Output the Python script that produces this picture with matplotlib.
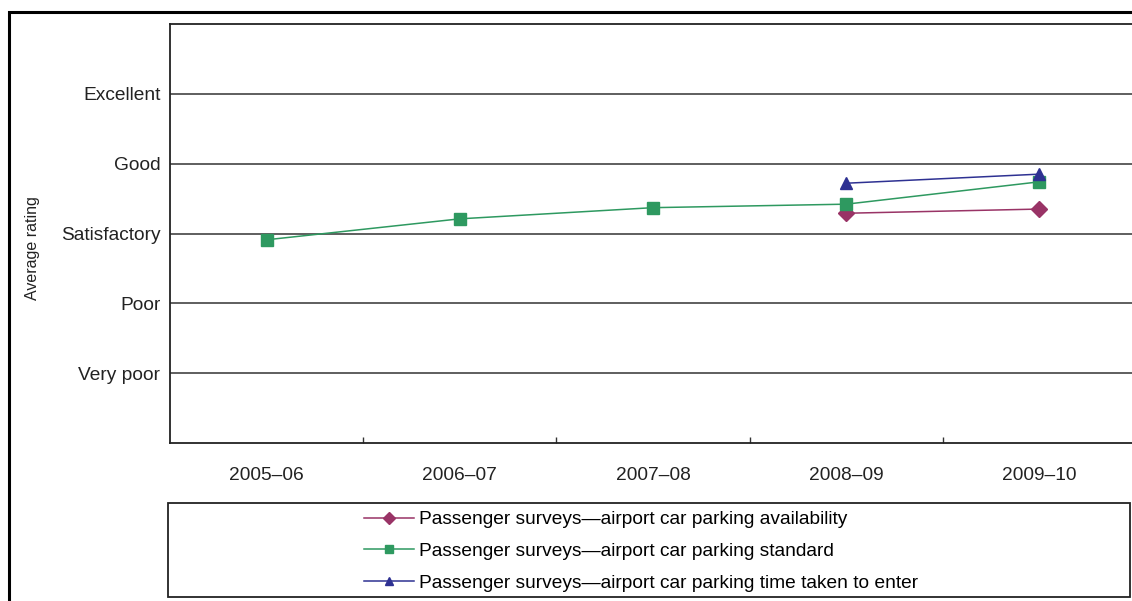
import matplotlib
matplotlib.use("Agg")
import matplotlib.pyplot as plt
from matplotlib.patches import Rectangle
from matplotlib.ticker import FixedLocator

plt.rcParams["font.family"] = ["Liberation Sans", "DejaVu Sans"]

years = ["2005–06", "2006–07", "2007–08", "2008–09", "2009–10"]
rating_labels = ["Very poor", "Poor", "Satisfactory", "Good", "Excellent"]
rating_values = [1, 2, 3, 4, 5]

availability = [None, None, None, 3.29, 3.35]
standard = [2.91, 3.21, 3.37, 3.42, 3.74]
time_to_enter = [None, None, None, 3.72, 3.85]

series = [
    ("Passenger surveys—airport car parking availability", availability, "#993366", "D", 8),
    ("Passenger surveys—airport car parking standard", standard, "#2E9960", "s", 9),
    ("Passenger surveys—airport car parking time taken to enter", time_to_enter, "#2E3192", "^", 9),
]

W, H = 1132, 601
fig = plt.figure(figsize=(W / 100, H / 100), dpi=100)

# outer frame
fig.patches.append(Rectangle((9 / W, -0.1), 1.2, 1 - 12 / H + 0.1, transform=fig.transFigure,
                             fill=False, edgecolor="black", linewidth=2.2))

ax_l, ax_r, ax_t, ax_b = 170, 1136, 24, 443
ax = fig.add_axes([ax_l / W, 1 - ax_b / H, (ax_r - ax_l) / W, (ax_b - ax_t) / H])
ax.set_xlim(-0.5, len(years) - 0.5)
ax.set_ylim(0, 6)

for v in rating_values:
    ax.axhline(v, color="#333333", linewidth=1.1, zorder=1)

handles = []
for label, vals, color, marker, ms in series:
    xs = [i for i, v in enumerate(vals) if v is not None]
    ys = [v for v in vals if v is not None]
    ax.plot(xs, ys, color=color, linewidth=1.1, zorder=3)
    ax.plot(xs, ys, linestyle="none", marker=marker, markersize=ms,
            markerfacecolor=color, markeredgecolor=color, zorder=4)
    h, = ax.plot([], [], color=color, linewidth=1.1, marker=marker, markersize=6,
                 markerfacecolor=color, markeredgecolor=color, label=label)
    handles.append(h)

FS = 13.8
ax.set_xticks(range(len(years)))
ax.set_xticklabels(years, fontsize=FS, color="#222222")
ax.xaxis.set_minor_locator(FixedLocator([i + 0.5 for i in range(len(years) - 1)]))
ax.tick_params(axis="x", which="major", length=0, pad=17)
ax.tick_params(axis="x", which="minor", direction="in", length=4.5, width=1, color="#333333")

ax.set_yticks(rating_values)
ax.set_yticklabels(rating_labels, fontsize=FS, color="#222222")
ax.tick_params(axis="y", length=0, pad=7)

ax.spines["right"].set_visible(False)
for side in ["left", "bottom", "top"]:
    ax.spines[side].set_linewidth(1.3)
    ax.spines[side].set_color("#222222")

fig.text(32 / W, 1 - 248 / H, "Average rating", rotation=90, fontsize=11.5,
         ha="center", va="center", color="#222222")

# legend box
lx0, lx1, ly0, ly1 = 168, 1130, 503, 597
fig.patches.append(Rectangle((lx0 / W, 1 - ly1 / H), (lx1 - lx0) / W, (ly1 - ly0) / H,
                             transform=fig.transFigure, fill=False,
                             edgecolor="#222222", linewidth=1.3))
fig.legend(handles=handles, loc="upper left", bbox_to_anchor=(360 / W, 1 - 507 / H),
           frameon=False, fontsize=FS, handlelength=2.6, handletextpad=0.3,
           labelspacing=0.75, borderaxespad=0, borderpad=0.2)

fig.savefig("out.png", dpi=100)
